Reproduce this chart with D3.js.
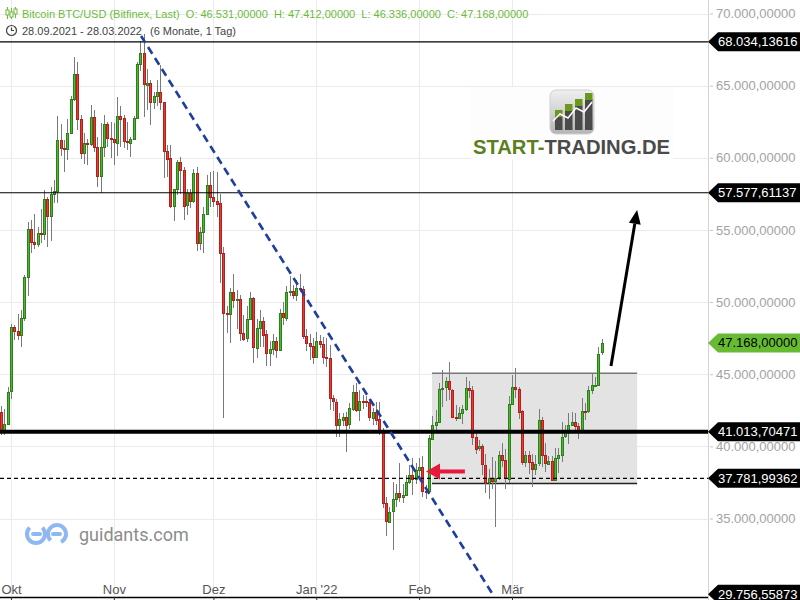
<!DOCTYPE html>
<html><head><meta charset="utf-8">
<script src="https://cdn.jsdelivr.net/npm/d3@7/dist/d3.min.js"></script>
<style>
html,body{margin:0;padding:0;background:#fff;}
svg{display:block;font-family:"Liberation Sans",Arial,sans-serif;}
</style></head>
<body>
<svg id="chart" width="800" height="600"></svg>
<script>
// ---------------- DATA ----------------
const firstDay = "2021-09-28", lastDay = "2022-03-28";
const opens = [
 42400,41050,41550,
 43800,48270,47990,47720,48900,51740,55070,54170,54050,54800,54700,57140,55960,57500,57700,61230,60670,60600,61720,64070,65800,62690,60330,61020,60950,62830,60750,58740,60750,62340,61370,
 61300,61070,62920,62740,61140,61050,61330,62780,66500,67240,65090,65200,63890,64280,64560,63890,60490,59960,56610,57820,59710,59150,56680,57540,56960,58930,54080,54840,56110,58120,
 57300,57030,56850,53380,49220,49180,50720,50190,50230,47880,47490,48810,50260,46870,48230,48710,47770,46450,46730,47280,46630,49220,48950,50720,50760,50490,50960,50900,47650,47190,46960,
 46210,47320,47100,46200,46100,43330,43100,41480,41880,42060,41530,42640,43790,42570,43170,43120,43080,42010,42400,41880,41100,36060,34780,35470,36330,36750,36470,36630,37560,38020,37720,
 38360,38600,36930,36880,40560,41500,41700,44000,44060,44510,43930,42040,41990,42340,42620,44070,43930,40650,39840,40000,38740,37540,37840,37610,37840,39380,39040,37770,
 42960,44120,44000,42430,38920,39380,38920,38460,38810,41810,39380,38810,39000,37700,39200,39380,40650,41100,41460,41700,41400,41070,42430,42400,43890,44230,44280,46531];
const highs = [
 42800,42600,44100,
 48450,48400,49170,49450,51880,55550,55690,56100,55200,56450,57770,57300,57980,58460,62900,62340,61230,62690,64280,66990,66640,62980,61720,61300,63660,63310,61440,62400,62970,62480,62480,
 62400,64220,63590,62970,62500,61440,62900,66660,68100,68600,66150,65390,64560,65390,66430,63890,60890,60890,57820,59850,60060,59370,57820,57820,59220,59370,55210,56610,58810,59020,
 59090,59000,57490,53840,49730,51000,51940,50840,50500,49100,49730,50730,50380,48810,49450,49000,48050,47320,47800,47600,49500,50000,51120,51800,51200,51500,51950,51100,48100,47800,47500,
 47950,47700,47550,47500,47050,43560,43300,42310,42310,42400,43000,44250,44400,43900,43560,43500,43300,42660,43080,43100,41250,36500,35800,37560,37400,38850,37400,38000,38700,39200,38850,
 39200,39300,37300,40800,42100,42500,44400,45320,44800,45850,43990,42900,42700,42870,44780,44500,44180,40940,40450,40150,39450,38410,39230,39000,39700,40250,39850,43500,
 44950,45400,44100,42510,39700,39650,39500,39400,42600,42050,40200,39350,39300,39900,39870,41700,41450,42300,42400,42300,41600,43350,43000,44200,45100,44800,46900,47412];
const lows = [
 40800,40800,41450,
 43300,47370,47370,46900,48700,50400,53400,53700,53800,54100,54300,53820,54230,56860,56860,60130,59020,59850,61650,63940,61930,59900,59570,59500,60820,60400,57980,57560,60060,60740,59990,
 59500,60130,60750,60680,60540,60060,61300,62700,66000,62830,63310,62270,63380,63590,63310,58600,58670,56540,55620,57420,57490,55690,56040,56540,56870,53540,53610,53400,56040,56590,
 56590,55900,51350,42000,47860,47140,49590,48140,47320,47320,47200,48750,45760,46150,46910,46910,45590,45590,46300,46100,46600,48400,48700,50400,50200,50100,50700,47450,46600,46000,45700,
 46150,46800,45700,45500,42500,42470,40660,40630,41420,39630,41200,42470,42400,41740,42600,42700,41740,41490,41490,40800,35700,33800,34700,32820,35800,36170,36100,36600,37400,36600,37400,
 37850,36500,36350,36800,40560,41100,41600,42700,43150,43200,41950,41760,41900,41570,42450,43330,40100,39470,39650,38000,36800,36370,37050,34400,37700,38600,37050,37450,
 42850,43350,41880,38700,38600,38100,37200,38000,38650,38550,38250,38700,37600,37600,38150,38900,40550,40150,41400,40900,40500,40900,41850,42300,43600,44100,44200,46336];
const closes = [
 41050,41550,43800,
 48270,47990,47720,48900,51740,55070,54170,54050,54800,54700,57140,55960,57500,57700,61230,60670,60600,61720,64070,65800,62690,60330,61020,60950,62830,60750,58740,60750,62340,61370,61300,
 61070,62920,62740,61140,61050,61330,62780,66500,67240,65090,65200,63890,64280,64560,63890,60490,59960,56610,57820,59710,59150,56680,57540,56960,58930,54080,54840,56110,58120,57300,
 57030,56850,53380,49220,49180,50720,50190,50230,47880,47490,48810,50260,46870,48230,48710,47770,46450,46730,47280,46630,49220,48950,50720,50760,50490,50960,50900,47650,47190,46960,46210,
 47320,47100,46200,46100,43330,43100,41480,41880,42060,41530,42640,43790,42570,43170,43120,43080,42010,42400,41880,41100,36060,34780,35470,36330,36750,36470,36630,37560,38020,37720,38360,
 38600,36930,36880,40560,41500,41700,44000,44060,44510,43930,42040,41990,42340,42620,44070,43930,40650,39840,40000,38740,37540,37840,37610,37840,39380,39040,37770,42960,
 44120,44000,42430,38920,39380,38920,38460,38810,41810,39380,38810,39000,37700,39200,39380,40650,41100,41460,41700,41400,41070,42430,42400,43890,44230,44280,46430,47168];

const monthTicks = ["2021-10-01","2021-11-01","2021-12-01","2022-01-01","2022-02-01","2022-03-01"];
const monthLabels = ["Okt","Nov","Dez","Jan '22","Feb","Mär"];
const priceTicks = [35000,40000,45000,50000,55000,60000,65000,70000];

const levelValues = [68034.13616, 57577.61137, 41013.70471, 37781.99362];
const levelStyles = ["thin","thin","thick","dashed"];
const lastPrice = 47168;
const axisMinLabel = 29756.55873;

const rangeBoxDates = ["2022-02-04T21:00","2022-04-07T17:00"];
const rangeBoxPrices = [45060, 37420];
const trendDates = ["2021-11-09T05:00","2022-02-23T12:00"];
const trendPrices = [68440, 29630];
const redArrowDates = ["2022-02-14T19:00","2022-02-03T02:00"];
const redArrowPrice = 38260;
const blackArrowDates = ["2022-03-30T20:00","2022-04-07T17:00"];
const blackArrowPrices = [45570, 56380];

const headerLine1 = "Bitcoin BTC/USD (Bitfinex, Last)  O: 46.531,00000  H: 47.412,00000  L: 46.336,00000  C: 47.168,00000";
const headerLine2a = "28.09.2021 - 28.03.2022", headerLine2b = "(6 Monate, 1 Tag)";

// ---------------- CHART ----------------
const svg = d3.select("#chart");
const W = 800, H = 600, plotRight = 708, plotBottom = 597;
const pd = s => new Date(s + (s.length === 10 ? "T00:00Z" : "Z"));
const x = d3.scaleUtc().domain([pd("2021-10-01"), pd("2022-03-01")]).range([11, 512]);
const y = d3.scaleLinear().domain([35000, 70000]).range([518.5, 13.5]);
const de = d3.formatLocale({decimal: ",", thousands: ".", grouping: [3], currency: ["", ""]});
const fmt = de.format(",.5f");

const days = d3.utcDay.range(pd(firstDay), d3.utcDay.offset(pd(lastDay), 1));
const candles = days.map((d, i) => ({d, o: opens[i], h: highs[i], l: lows[i], c: closes[i]}));

svg.append("defs").append("clipPath").attr("id", "plot")
  .append("rect").attr("x", 0).attr("y", 0).attr("width", plotRight).attr("height", plotBottom);

// grid
const grid = svg.append("g").attr("shape-rendering", "crispEdges");
grid.selectAll("line.h").data(priceTicks).join("line")
  .attr("x1", 0).attr("x2", plotRight).attr("y1", d => Math.round(y(d)) + 0.5).attr("y2", d => Math.round(y(d)) + 0.5)
  .attr("stroke", "#ebebeb");
grid.selectAll("line.v").data(monthTicks).join("line")
  .attr("x1", d => Math.round(x(pd(d))) + 0.5).attr("x2", d => Math.round(x(pd(d))) + 0.5)
  .attr("y1", 0).attr("y2", plotBottom).attr("stroke", "#ebebeb");

// start-trading logo
const logo = svg.append("g");
logo.append("rect").attr("x", 471).attr("y", 87).attr("width", 202).attr("height", 72).attr("fill", "#fdfdfd");
const lg = svg.select("defs").append("linearGradient").attr("id", "lgrad").attr("x1", 0).attr("y1", 0).attr("x2", 0).attr("y2", 1);
lg.append("stop").attr("offset", "0%").attr("stop-color", "#f0f0f0");
lg.append("stop").attr("offset", "100%").attr("stop-color", "#b4b4b4");
logo.append("rect").attr("x", 550).attr("y", 90).attr("width", 44).attr("height", 44).attr("rx", 6).attr("fill", "url(#lgrad)").attr("stroke", "#cfcfcf");
const bars = [[555, 116, 9], [565, 110, 15], [575, 105, 20], [585, 99, 26]];
bars.forEach(([bx, by, bh], i) => {
  logo.append("rect").attr("x", bx).attr("y", by).attr("width", 7.5).attr("height", 130 - by).attr("fill", "#4a4a4a");
  logo.append("rect").attr("x", bx).attr("y", by - 6).attr("width", 7.5).attr("height", 7).attr("fill", "#6a9a1c");
});
logo.append("polyline").attr("points", "553,121 560,114 568,118 576,108 584,112 592,102")
  .attr("fill", "none").attr("stroke", "#fff").attr("stroke-width", 1.5);
const lt = logo.append("text").attr("x", 473).attr("y", 154).attr("font-size", 20).attr("font-weight", "bold")
  .attr("textLength", 197).attr("lengthAdjust", "spacingAndGlyphs");
lt.append("tspan").attr("fill", "#5b7f1d").text("START-");
lt.append("tspan").attr("fill", "#4a4a4a").text("TRADING.DE");

// guidants logo
const gu = svg.append("g").attr("fill", "none").attr("stroke", "#8fb7f3").attr("stroke-width", 4).attr("stroke-linecap", "round");
gu.append("path").attr("d", d3.arc()({innerRadius: 9, outerRadius: 9, startAngle: Math.PI * 0.25, endAngle: Math.PI * 1.75}))
  .attr("transform", "translate(36,534)");
gu.append("line").attr("x1", 33).attr("x2", 40).attr("y1", 534).attr("y2", 534);
gu.append("path").attr("d", d3.arc()({innerRadius: 9, outerRadius: 9, startAngle: -Math.PI * 0.75, endAngle: Math.PI * 0.85}))
  .attr("transform", "translate(57,534)");
gu.append("line").attr("x1", 53).attr("x2", 60).attr("y1", 534).attr("y2", 534);
svg.append("text").attr("x", 79).attr("y", 541).attr("font-family", "Roboto, sans-serif").attr("font-size", 18)
  .attr("fill", "#8c8c8c").text("guidants.com");

const plot = svg.append("g").attr("clip-path", "url(#plot)");

// range box
const bx0 = x(pd(rangeBoxDates[0])), bx1 = x(pd(rangeBoxDates[1]));
const by0 = y(rangeBoxPrices[0]), by1 = y(rangeBoxPrices[1]);
plot.append("rect").attr("x", bx0).attr("y", by0).attr("width", bx1 - bx0).attr("height", by1 - by0)
  .attr("fill", "#e3e3e3");
plot.append("line").attr("x1", bx0).attr("x2", bx1).attr("y1", by0).attr("y2", by0).attr("stroke", "#777").attr("stroke-width", 1.5);
plot.append("line").attr("x1", bx0).attr("x2", bx1).attr("y1", by1).attr("y2", by1).attr("stroke", "#222").attr("stroke-width", 1.5);

// candles
const cg = plot.append("g").attr("shape-rendering", "crispEdges");
const cx = d => Math.round(x(d.d));
cg.selectAll("line.wick").data(candles).join("line")
  .attr("x1", d => cx(d) + 0.5).attr("x2", d => cx(d) + 0.5)
  .attr("y1", d => y(d.h)).attr("y2", d => y(d.l)).attr("stroke", "#7a7a7a").attr("stroke-width", 1);
cg.selectAll("rect.body").data(candles).join("rect")
  .attr("x", d => cx(d) - 0.5).attr("width", 2)
  .attr("y", d => Math.round(y(Math.max(d.o, d.c))) + 0.5)
  .attr("height", d => Math.max(1, Math.round(Math.abs(y(d.o) - y(d.c)))))
  .attr("fill", d => d.c >= d.o ? "#4cb82c" : "#e53b36")
  .attr("stroke", d => d.c >= d.o ? "#2c7f1a" : "#b3201c").attr("stroke-width", 1);

// level lines
levelValues.forEach((v, i) => {
  const st = levelStyles[i];
  plot.append("line").attr("x1", 0).attr("x2", plotRight).attr("y1", y(v)).attr("y2", y(v))
    .attr("stroke", "#000").attr("stroke-width", st === "thick" ? 4 : 1.2)
    .attr("stroke-dasharray", st === "dashed" ? "4,3" : null);
});

// trend line
plot.append("line")
  .attr("x1", x(pd(trendDates[0]))).attr("y1", y(trendPrices[0]))
  .attr("x2", x(pd(trendDates[1]))).attr("y2", y(trendPrices[1]))
  .attr("stroke", "#1f3f9f").attr("stroke-width", 2.6).attr("stroke-dasharray", "8,5");

// red arrow
const rx0 = x(pd(redArrowDates[0])), rx1 = x(pd(redArrowDates[1])), ry = y(redArrowPrice);
plot.append("line").attr("x1", rx0).attr("x2", rx1 + 12).attr("y1", ry).attr("y2", ry)
  .attr("stroke", "#e8173c").attr("stroke-width", 4);
plot.append("path").attr("d", `M${rx1},${ry} L${rx1 + 14},${ry - 8} L${rx1 + 14},${ry + 8} Z`).attr("fill", "#e8173c");

// black arrow
const ax0 = x(pd(blackArrowDates[0])), ay0 = y(blackArrowPrices[0]);
const ax1 = x(pd(blackArrowDates[1])), ay1 = y(blackArrowPrices[1]);
const ang = Math.atan2(ay1 - ay0, ax1 - ax0);
const hl = 14, hw = 6;
const bxm = ax1 - hl * Math.cos(ang), bym = ay1 - hl * Math.sin(ang);
plot.append("line").attr("x1", ax0).attr("y1", ay0).attr("x2", bxm).attr("y2", bym).attr("stroke", "#000").attr("stroke-width", 3);
plot.append("path").attr("d",
  `M${ax1},${ay1} L${bxm + hw * Math.sin(ang)},${bym - hw * Math.cos(ang)} L${bxm - hw * Math.sin(ang)},${bym + hw * Math.cos(ang)} Z`)
  .attr("fill", "#000");

// bottom axis
const xAxis = d3.axisBottom(x).tickValues(monthTicks.map(pd)).tickFormat((d, i) => monthLabels[i]).tickSize(4).tickSizeOuter(0);
const xg = svg.append("g").attr("transform", `translate(0,${plotBottom})`).call(xAxis);
xg.select(".domain").attr("d", `M0,0.5H${plotRight}`).attr("stroke", "#000").attr("stroke-width", 1.3);
xg.selectAll(".tick line").attr("stroke", "#333");
xg.selectAll(".tick text").attr("y", -3).attr("dy", null).attr("fill", "#555")
  .attr("font-family", "'Liberation Sans Narrow','Arial Narrow',sans-serif").attr("font-size", 13);

// right axis
const yAxis = d3.axisRight(y).tickValues(priceTicks).tickFormat(fmt).tickSize(5).tickPadding(3);
const yg = svg.append("g").attr("transform", `translate(${plotRight},0)`).call(yAxis);
yg.select(".domain").attr("d", `M0.5,0V${H}`).attr("stroke", "#d4d4d4");
yg.selectAll(".tick line").attr("stroke", "#c4c4c4").attr("x1", 2);
yg.selectAll(".tick text").attr("fill", "#a3a3a3").attr("font-size", 13).attr("font-family", "'Liberation Sans',Arial,sans-serif");

// price label boxes
const boxes = levelValues.map(v => ({v, bg: "#000", fg: "#fff"}))
  .concat([{v: lastPrice, bg: "#66bb33", fg: "#000"}, {v: axisMinLabel, bg: "#000", fg: "#fff"}]);
const bl = svg.append("g");
boxes.forEach(b => {
  const cy = y(b.v);
  bl.append("path").attr("d", `M${plotRight},${cy} L${plotRight + 10},${cy - 9.5} L${W},${cy - 9.5} L${W},${cy + 9.5} L${plotRight + 10},${cy + 9.5} Z`)
    .attr("fill", b.bg);
  bl.append("text").attr("x", 718).attr("y", cy).attr("dy", "0.35em").attr("font-size", 13).attr("fill", b.fg).text(fmt(b.v));
});

// header
const hd = svg.append("g");
const ic = hd.append("g").attr("stroke", "#6dbb3b").attr("fill", "none").attr("stroke-width", 1);
[[7.5, 7, 19, 10, 15], [11.5, 8, 19, 12, 17], [15.5, 7, 18, 9, 14]].forEach(([ix, t, b, bt, bb]) => {
  ic.append("line").attr("x1", ix).attr("x2", ix).attr("y1", t).attr("y2", b);
  ic.append("rect").attr("x", ix - 1.5).attr("y", bt).attr("width", 3).attr("height", bb - bt).attr("fill", "#fff");
});
hd.append("text").attr("x", 22).attr("y", 18).attr("font-size", 11).attr("fill", "#6dbb3b")
  .attr("xml:space", "preserve").style("white-space", "pre").text(headerLine1);
hd.append("circle").attr("cx", 11.5).attr("cy", 30.5).attr("r", 5).attr("fill", "none").attr("stroke", "#444").attr("stroke-width", 1.2);
hd.append("path").attr("d", "M11.5,27.5V30.5H14").attr("fill", "none").attr("stroke", "#444").attr("stroke-width", 1.2);
hd.append("text").attr("x", 22).attr("y", 35).attr("font-size", 11).attr("fill", "#444").text(headerLine2a);
hd.append("text").attr("x", 150).attr("y", 35).attr("font-size", 11).attr("fill", "#444").text(headerLine2b);
</script>
</body></html>
